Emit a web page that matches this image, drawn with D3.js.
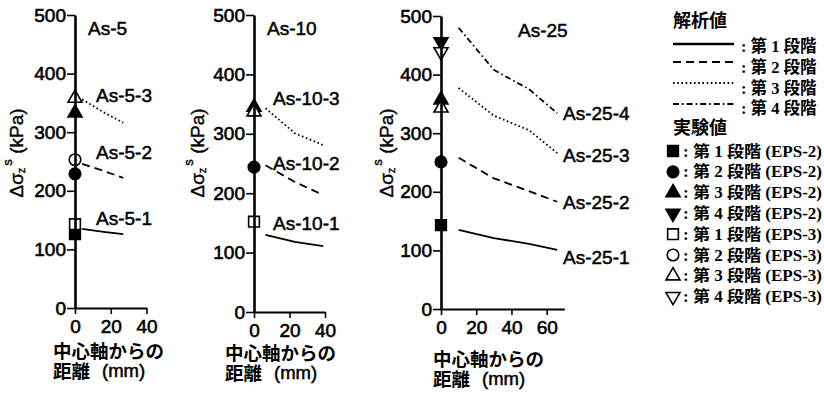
<!DOCTYPE html>
<html>
<head>
<meta charset="utf-8">
<script src="https://cdn.jsdelivr.net/npm/d3@7"></script>
<style>
  body { margin: 0; background: #fff; }
  svg { display: block; }
  text { fill: #000; }
</style>
</head>
<body>
<svg id="chart" width="824" height="395"></svg>
<script>
// ---------------- DATA ----------------
const yTicks = [0, 100, 200, 300, 400, 500];
const xTicksA = [0, 20, 40];
const xTicksB = [0, 20, 40, 60];

// analysis curves (distance from centre axis in mm, stress in kPa)
const dist5 = [4, 16, 27];
const as5_1 = [135, 130, 126];
const as5_2 = [246, 234, 222];
const as5_3 = [356, 334, 316];

const dist10 = [6.5, 23, 39];
const as10_1 = [130, 118, 111];
const as10_2 = [247, 219, 197];
const as10_3 = [343, 301, 281];

const dist25 = [10, 30, 50, 66];
const as25_1 = [135, 121, 111, 101];
const as25_2 = [258, 223, 201, 183];
const as25_3 = [377, 330, 305, 266];
const as25_4 = [480, 408, 375, 334];

// experiments at distance 0 (stage 1..4)
const exp5_eps2 = [126, 229, 333, null];
const exp5_eps3 = [143, 253, 358, null];
const exp10_eps2 = [null, 244, 345, null];
const exp10_eps3 = [152, null, 337, null];
const exp25_eps2 = [143, 251, 357, 456];
const exp25_eps3 = [null, null, 343, 439];

const labels5 = ["As-5-1", "As-5-2", "As-5-3"];
const labels10 = ["As-10-1", "As-10-2", "As-10-3"];
const labels25 = ["As-25-1", "As-25-2", "As-25-3", "As-25-4"];

const stageNames = ["第 1 段階", "第 2 段階", "第 3 段階", "第 4 段階"];
const expNames = ["EPS-2", "EPS-3"];

// ---------------- STYLE / LAYOUT ----------------
const dashes = [null, "8,5", "1.6,2.6", "6,3,1.6,3"];
const LATIN = "'Liberation Sans', Arial, Helvetica, sans-serif";
const CJK = "'Noto Sans CJK JP', 'Noto Sans', sans-serif";
const LEG = "'Liberation Serif', 'Noto Sans CJK JP', serif";

const svg = d3.select("#chart");

function thick(sel, w) {
  return sel.attr("stroke", "#000").attr("stroke-width", w).attr("paint-order", "stroke");
}

function symbolPath(stage) {
  const types = [d3.symbolSquare, d3.symbolCircle, d3.symbolTriangle, d3.symbolTriangle];
  const sizes = [115, 105, 85, 85];
  return d3.symbol().type(types[stage]).size(sizes[stage])();
}

function drawMarker(g, cx, cy, stage, filled) {
  g.append("path")
    .attr("d", symbolPath(stage))
    .attr("transform", `translate(${cx},${cy})` + (stage === 3 ? " rotate(180)" : ""))
    .attr("fill", filled ? "#000" : "#fff")
    .attr("stroke", "#000")
    .attr("stroke-width", 1.6);
}

const panels = [
  { title: "As-5", dist: dist5, curves: [as5_1, as5_2, as5_3], labels: labels5,
    eps2: exp5_eps2, eps3: exp5_eps3, xTicks: xTicksA, xMax: 40,
    x0: 75, x1: 146.5, y0: 308, y1: 15,
    titlePos: [88, 28], labelX: 96, labelY: [218, 152, 95],
    yLabelX: 16, xTitleX: 53, xTitleY: 350 },
  { title: "As-10", dist: dist10, curves: [as10_1, as10_2, as10_3], labels: labels10,
    eps2: exp10_eps2, eps3: exp10_eps3, xTicks: xTicksA, xMax: 40,
    x0: 254, x1: 325, y0: 312, y1: 15,
    titlePos: [267, 28], labelX: 273, labelY: [223, 163, 98],
    yLabelX: 197, xTitleX: 225, xTitleY: 352 },
  { title: "As-25", dist: dist25, curves: [as25_1, as25_2, as25_3, as25_4], labels: labels25,
    eps2: exp25_eps2, eps3: exp25_eps3, xTicks: xTicksB, xMax: 70,
    x0: 441, x1: 546.7, xRef: 60, y0: 309, y1: 16,
    titlePos: [518, 30], labelX: 563, labelY: [257, 202, 155, 113],
    yLabelX: 386, xTitleX: 433, xTitleY: 358 }
];

panels.forEach(p => {
  const refX = p.xRef || 40;
  const x = d3.scaleLinear().domain([0, refX]).range([p.x0, p.x1]);
  const y = d3.scaleLinear().domain([0, 500]).range([p.y0, p.y1]);
  const g = svg.append("g");

  // analysis curves
  const line = d3.line().x((d, i) => x(p.dist[i])).y(d => y(d));
  p.curves.forEach((c, i) => {
    g.append("path").datum(c).attr("d", line)
      .attr("fill", "none").attr("stroke", "#000")
      .attr("stroke-width", 1.8)
      .attr("stroke-dasharray", dashes[i]);
  });

  // experimental markers (EPS-2 filled, EPS-3 open)
  p.eps2.forEach((v, i) => { if (v != null) drawMarker(g, x(0), y(v), i, true); });
  p.eps3.forEach((v, i) => { if (v != null) drawMarker(g, x(0), y(v), i, false); });

  // axes
  const xAxis = d3.axisBottom(d3.scaleLinear().domain([0, p.xMax]).range([x(0), x(p.xMax)]))
    .tickValues(p.xTicks).tickSize(6).tickSizeOuter(0).tickPadding(6);
  const gx = g.append("g").attr("transform", `translate(0,${p.y0})`).call(xAxis);
  gx.select(".domain").attr("stroke-width", 2);
  gx.selectAll(".tick line").attr("stroke-width", 1.6);
  thick(gx.selectAll("text").attr("font-family", LATIN).attr("font-size", 19), 0.6);

  const yAxis = d3.axisLeft(y).tickValues(yTicks).tickSize(8).tickSizeOuter(0).tickPadding(1);
  const gy = g.append("g").attr("transform", `translate(${x(0)},0)`).call(yAxis);
  gy.select(".domain").attr("stroke-width", 2.6);
  gy.selectAll(".tick line").attr("stroke-width", 1.6);
  thick(gy.selectAll("text").attr("font-family", LATIN).attr("font-size", 19), 0.6);

  // panel title
  thick(g.append("text").attr("x", p.titlePos[0]).attr("y", p.titlePos[1])
    .attr("dominant-baseline", "central")
    .attr("font-family", LATIN).attr("font-size", 19).text(p.title), 0.5);

  // series labels
  p.labels.forEach((t, i) => {
    thick(g.append("text").attr("x", p.labelX).attr("y", p.labelY[i])
      .attr("dominant-baseline", "central")
      .attr("font-family", LATIN).attr("font-size", 19).text(t), 0.5);
  });

  // y label (rotated)
  const yl = g.append("text")
    .attr("transform", `translate(${p.yLabelX},153) rotate(-90)`)
    .attr("text-anchor", "middle").attr("dominant-baseline", "central")
    .attr("font-family", LATIN).attr("font-size", 19);
  thick(yl, 0.4);
  yl.append("tspan").text("Δσ");
  yl.append("tspan").attr("font-size", 11).attr("dy", 5).text("z");
  yl.append("tspan").attr("font-size", 13).attr("dy", -14).attr("dx", 2).text("s");
  yl.append("tspan").attr("dy", 9).text(" (kPa)");

  // x title
  g.append("text").attr("x", p.xTitleX).attr("y", p.xTitleY)
    .attr("dominant-baseline", "central")
    .attr("font-family", CJK).attr("font-weight", 700).attr("font-size", 18.5)
    .text("中心軸からの");
  const t2 = g.append("text").attr("x", p.xTitleX).attr("y", p.xTitleY + 20)
    .attr("dominant-baseline", "central")
    .attr("font-size", 18.5);
  t2.append("tspan").attr("font-family", CJK).attr("font-weight", 700).text("距離");
  thick(t2.append("tspan").attr("font-family", LATIN).attr("x", p.xTitleX + 49).text("(mm)"), 0.5);
});

// ---------------- LEGEND ----------------
const lg = svg.append("g");
lg.append("text").attr("x", 673).attr("y", 19).attr("dominant-baseline", "central")
  .attr("font-family", CJK).attr("font-weight", 700).attr("font-size", 18).text("解析値");
const lineRowY = [44, 62, 83, 104];
const lineTextY = [46, 67, 88, 108];
stageNames.forEach((s, i) => {
  lg.append("line").attr("x1", 673).attr("x2", 734)
    .attr("y1", lineRowY[i]).attr("y2", lineRowY[i])
    .attr("stroke", "#000").attr("stroke-width", i === 0 ? 2.6 : 2.2)
    .attr("stroke-dasharray", dashes[i]);
  lg.append("text").attr("x", 741).attr("y", lineTextY[i])
    .attr("dominant-baseline", "central")
    .attr("font-family", LEG).attr("font-weight", 700).attr("font-size", 16.5)
    .text(": " + s);
});
lg.append("text").attr("x", 673).attr("y", 126).attr("dominant-baseline", "central")
  .attr("font-family", CJK).attr("font-weight", 700).attr("font-size", 18).text("実験値");

let row = 0;
expNames.forEach((e, ei) => {
  stageNames.forEach((s, si) => {
    const yy = 151 + row * 20.8;
    drawMarker(lg, 673, yy, si, ei === 0);
    lg.append("text").attr("x", 683).attr("y", yy)
      .attr("dominant-baseline", "central")
      .attr("font-family", LEG).attr("font-weight", 700).attr("font-size", 16)
      .attr("textLength", 139).attr("lengthAdjust", "spacingAndGlyphs")
      .text(": " + s + " (" + e + ")");
    row++;
  });
});
</script>
</body>
</html>
